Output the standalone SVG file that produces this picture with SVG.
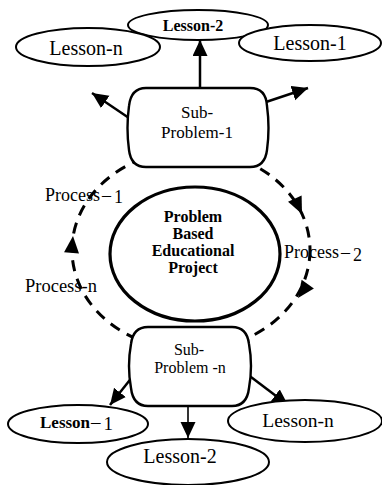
<svg xmlns="http://www.w3.org/2000/svg" width="382" height="485" viewBox="0 0 382 485">
  <defs>
    <marker id="head" markerUnits="userSpaceOnUse" markerWidth="18" markerHeight="16" refX="16" refY="7.5" orient="auto">
      <path d="M0,0 L16,7.5 L0,15 Z" fill="#000"/>
    </marker>
    <style>
      text { font-family: "Liberation Serif", "Times New Roman", serif; fill: #000; }
      .lesson { fill: #fff; stroke: #000; stroke-width: 2; }
      .box { fill: #fff; stroke: #000; stroke-width: 2.4; }
      .core { fill: #fff; stroke: #000; stroke-width: 3.2; }
      .arrow { fill: none; stroke: #000; stroke-width: 2.5; marker-end: url(#head); }
      .ring { fill: none; stroke: #000; stroke-width: 3; stroke-dasharray: 11 8; }
      .tip { fill: #000; }
      .mid { text-anchor: middle; }
      .bold { font-weight: bold; }
    </style>
  </defs>
  <rect width="382" height="485" fill="#fff"/>

  <!-- connectors: dashed process cycle and the lesson arrows -->
  <g id="connectors">
    <ellipse class="ring" cx="191" cy="250" rx="119" ry="100"/>
    <path class="tip" d="M0,0 L-17,-7.5 L-17,7.5 Z" transform="translate(302,214) rotate(65)"/>
    <path class="tip" d="M0,0 L-17,-7.5 L-17,7.5 Z" transform="translate(298,298) rotate(125)"/>
    <path class="tip" d="M0,0 L-17,-7.5 L-17,7.5 Z" transform="translate(73,236) rotate(-85)"/>

    <line class="arrow" x1="200" y1="88" x2="200" y2="40"/>
    <line class="arrow" x1="129" y1="118" x2="92" y2="93"/>
    <line class="arrow" x1="266" y1="102" x2="308" y2="88"/>

    <line class="arrow" x1="133" y1="376" x2="110" y2="405"/>
    <line class="arrow" x1="188" y1="406" x2="188" y2="438" style="stroke-width:1.6"/>
    <line class="arrow" x1="247" y1="374" x2="288" y2="405"/>

    <text x="45" y="201" font-size="18">Process<tspan dx="2">–</tspan><tspan dx="3" dy="2">1</tspan></text>
    <text x="284" y="258" font-size="18">Process<tspan dx="2">–</tspan><tspan dx="3" dy="3">2</tspan></text>
    <text x="25" y="292" font-size="18.5">Process-n</text>
  </g>

  <!-- top sub-problem and its lessons -->
  <g id="sub-problem-1">
    <path class="box" d="M146,88 H250 Q266,88 267,106 Q270,128 267,150 Q265,167 250,167 H146 Q131,167 129,150 Q126,128 129,106 Q131,88 146,88 Z"/>
    <text class="mid" x="197" y="118" font-size="17">Sub-</text>
    <text class="mid" x="197" y="138" font-size="17">Problem-1</text>
  </g>
  <g id="lesson-top-2">
    <ellipse class="lesson" cx="198" cy="25" rx="70" ry="15"/>
    <text class="mid bold" x="193" y="31" font-size="16">Lesson-2</text>
  </g>
  <g id="lesson-top-n">
    <ellipse class="lesson" cx="88" cy="47" rx="72" ry="19"/>
    <text class="mid" x="86" y="55" font-size="20">Lesson-n</text>
  </g>
  <g id="lesson-top-1">
    <ellipse class="lesson" cx="310" cy="43" rx="71" ry="18"/>
    <text class="mid" x="310" y="50" font-size="20">Lesson-1</text>
  </g>

  <!-- central project -->
  <g id="project">
    <ellipse class="core" cx="195" cy="254" rx="85" ry="67"/>
    <text class="mid bold" x="193" y="222" font-size="16">Problem</text>
    <text class="mid bold" x="193" y="239" font-size="16">Based</text>
    <text class="mid bold" x="193" y="256" font-size="16">Educational</text>
    <text class="mid bold" x="193" y="273" font-size="16">Project</text>
  </g>

  <!-- bottom sub-problem and its lessons -->
  <g id="sub-problem-n">
    <path class="box" d="M148,327 H232 Q247,327 249,344 Q253,366 249,388 Q247,406 232,406 H148 Q133,406 131,388 Q127,366 131,344 Q133,327 148,327 Z"/>
    <text class="mid" x="189" y="355" font-size="16">Sub-</text>
    <text class="mid" x="190" y="373" font-size="16">Problem -n</text>
  </g>
  <g id="lesson-bottom-1">
    <ellipse class="lesson" cx="78" cy="424" rx="70" ry="19"/>
    <text x="40" y="428" font-size="17" class="bold">Lesson<tspan dx="1" font-weight="normal" font-size="19">–</tspan><tspan dx="3" dy="2" font-weight="normal" font-size="19">1</tspan></text>
  </g>
  <g id="lesson-bottom-n">
    <ellipse class="lesson" cx="305" cy="421" rx="77" ry="21"/>
    <text class="mid" x="298" y="427" font-size="19.5">Lesson-n</text>
  </g>
  <g id="lesson-bottom-2">
    <ellipse class="lesson" cx="188" cy="462" rx="81" ry="23"/>
    <text class="mid" x="180" y="463" font-size="20">Lesson-2</text>
  </g>
</svg>
